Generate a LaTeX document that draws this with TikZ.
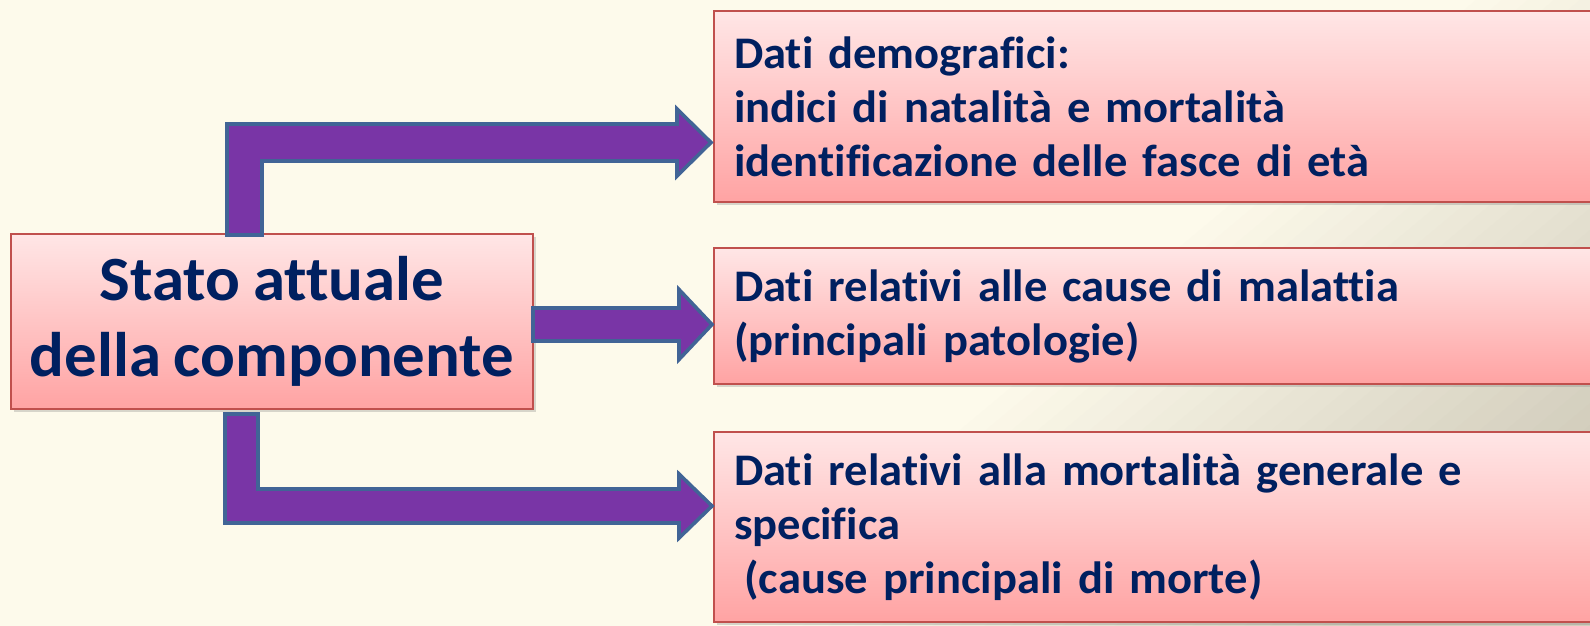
\documentclass[tikz,border=0pt]{standalone}
\usepackage{fontspec}
\setmainfont{Carlito}[Ligatures={NoCommon,NoContextual}, FakeStretch=1.03, WordSpace=0.85]
\usetikzlibrary{calc,shadows}
\definecolor{sfondo}{RGB}{253,250,235}
\definecolor{sfondoscuro}{RGB}{210,205,188}
\definecolor{rosachiaro}{RGB}{255,230,230}
\definecolor{rosascuro}{RGB}{255,163,163}
\definecolor{bordorosso}{RGB}{192,80,77}
\definecolor{blunotte}{RGB}{0,32,96}
\definecolor{viola}{RGB}{121,53,166}
\definecolor{bluacciaio}{RGB}{65,100,150}
\begin{document}
\begin{tikzpicture}[x=0.5pt,y=-0.5pt,
    box/.style={rectangle, draw=bordorosso, line width=1pt, top color=rosachiaro, bottom color=rosascuro, text=blunotte,
      drop shadow={opacity=.3, shadow xshift=1.5pt, shadow yshift=-1.5pt}},
    dato/.style={box, anchor=north west, inner xsep=10pt, text width=425pt, align=left, font=\fontsize{22.6}{27}\selectfont\bfseries},
    freccia/.style={fill=viola, draw=bluacciaio, line width=1.8pt, line join=miter}]
    \useasboundingbox (0,0) rectangle (1590,626);
    \clip (0,0) rectangle (1590,626);
    \fill[sfondo] (0,0) rectangle (1590,626);
    %sfondo che scurisce verso l'angolo in basso a destra
    \foreach \i in {1,...,25}
      \fill[sfondoscuro!\the\numexpr\i*4\relax!sfondo] ({1450+\i*26},0) -- ({1450+\i*26-840},700) -- (1700,700) -- (1700,0) -- cycle;

    %componente a sinistra e tre gruppi di dati a destra
    \node[box, anchor=north west, minimum width=261pt, minimum height=87.5pt, align=center, font=\fontsize{31.5}{38}\selectfont\bfseries] (stato) at (10,233) {Stato attuale\\della componente};
    \node[dato, minimum height=95.5pt] (demo) at (713,10) {Dati demografici:\\indici di natalità e mortalità\\identificazione delle fasce di età};
    \node[dato, minimum height=68pt] (cause) at (713,247) {Dati relativi alle cause di malattia\\(principali patologie)};
    \node[dato, minimum height=95pt] (morte) at (713,431) {Dati relativi alla mortalità generale e\\specifica\\\hspace*{.23em}(cause principali di morte)};

    \coordinate (p1) at ($(demo.west)+(-2,36)$);
    \coordinate (p2) at ($(cause.west)+(-1,8.5)$);
    \coordinate (p3) at ($(morte.west)+(-1,-21)$);

    \draw[freccia] ($(stato.north west)+(217,2)$) |- ($(p1)+(-34,-18.5)$) -- ++(0,-15) -- (p1) -- ++(-34,33.5) -- ++(0,-15) -| ($(stato.north west)+(252,2)$) -- cycle;
    \draw[freccia] ($(stato.east)+(-1,-13.5)$) -- ($(p2)+(-33,-16.5)$) -- ++(0,-18.5) -- (p2) -- ++(-33,35) -- ++(0,-18.5) -- ($(stato.east)+(-1,19.5)$) -- cycle;
    \draw[freccia] ($(stato.south west)+(215,4)$) |- ($(p3)+(-33,17)$) -- ++(0,15) -- (p3) -- ++(-33,-32) -- ++(0,15) -| ($(stato.south west)+(248,4)$) -- cycle;

\end{tikzpicture}
\end{document}
